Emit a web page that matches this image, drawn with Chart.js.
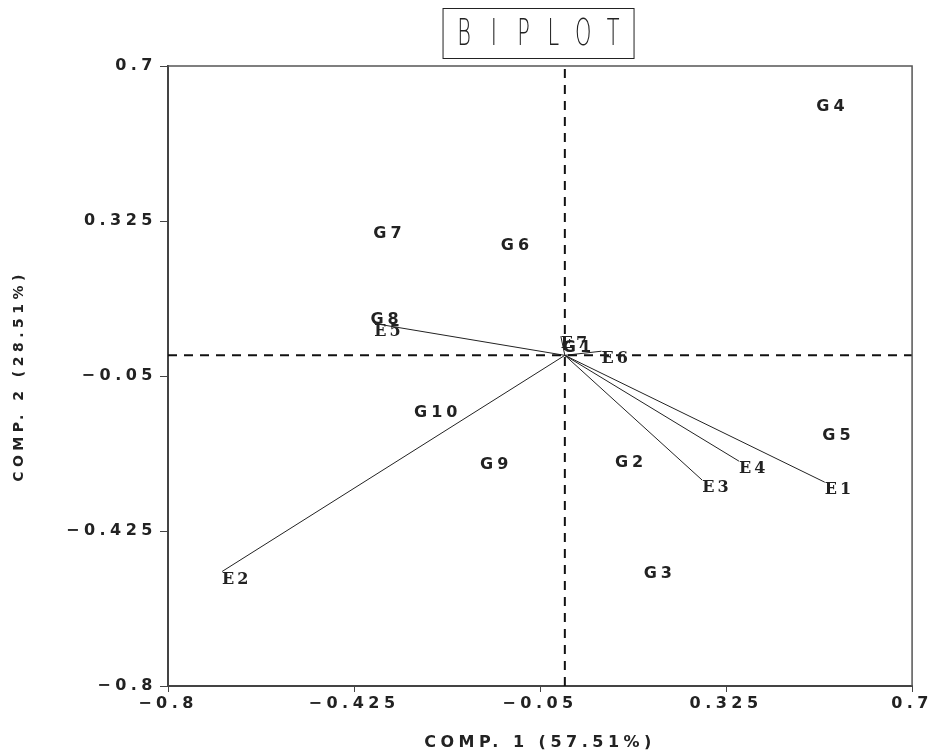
<!DOCTYPE html>
<html>
<head>
<meta charset="utf-8">
<script src="https://cdn.jsdelivr.net/npm/chart.js@4.4.1/dist/chart.umd.min.js"></script>
<style>
    html, body { margin: 0; padding: 0; background: #fff; }
</style>
</head>
<body>
<canvas id="biplot" width="935" height="752"></canvas>
<script>
const titleText = 'BIPLOT';
const xTitle = 'COMP. 1 (57.51%)';
const yTitle = 'COMP. 2 (28.51%)';
const axisTicks = [-0.8, -0.425, -0.05, 0.325, 0.7];

// environment vectors (drawn from the origin)
const envNames = ['E1', 'E2', 'E3', 'E4', 'E5', 'E6', 'E7'];
const envX = [0.524, -0.691, 0.277, 0.351, -0.384, 0.074, -0.008];
const envY = [-0.307, -0.523, -0.302, -0.256, 0.077, 0.010, 0.046];

// genotype scores
const genNames = ['G1', 'G2', 'G3', 'G4', 'G5', 'G6', 'G7', 'G8', 'G9', 'G10'];
const genX = [-0.004, 0.101, 0.159, 0.507, 0.519, -0.129, -0.386, -0.392, -0.171, -0.304];
const genY = [0.036, -0.242, -0.510, 0.619, -0.177, 0.285, 0.312, 0.106, -0.247, -0.121];

const axisMin = axisTicks[0];
const axisMax = axisTicks[axisTicks.length - 1];
const inkColor = '#222';
const tickFont = {family: 'DejaVu Sans', size: 16, weight: 'bold'};

function formatTick(value) {
    return Number(value.toFixed(3)).toString().replace('-', '\u2212');
}

const datasets = [
    {
        label: 'vertical',
        data: [{x: 0, y: axisMin}, {x: 0, y: axisMax}],
        showLine: true, borderColor: '#111', borderWidth: 2, borderDash: [9, 7], pointRadius: 0
    },
    {
        label: 'horizontal',
        data: [{x: axisMin, y: 0}, {x: axisMax, y: 0}],
        showLine: true, borderColor: '#111', borderWidth: 2, borderDash: [9, 7], pointRadius: 0
    }
];

envNames.forEach((name, i) => {
    datasets.push({
        label: name,
        kind: 'env',
        data: [{x: 0, y: 0}, {x: envX[i], y: envY[i]}],
        showLine: true, borderColor: inkColor, borderWidth: 1, pointRadius: 0
    });
});

datasets.push({
    label: 'genotypes',
    kind: 'gen',
    data: genX.map((x, i) => ({x: x, y: genY[i]})),
    pointRadius: 0
});

const spacingPlugin = {
    id: 'spacing',
    beforeLayout(chart) { chart.ctx.letterSpacing = '4.5px'; },
    beforeDraw(chart) { chart.ctx.letterSpacing = '4.5px'; }
};

const labelPlugin = {
    id: 'pointLabels',
    afterDatasetsDraw(chart) {
        const ctx = chart.ctx;
        const xs = chart.scales.x;
        const ys = chart.scales.y;
        ctx.save();
        ctx.fillStyle = inkColor;
        ctx.textAlign = 'left';
        ctx.textBaseline = 'alphabetic';

        ctx.font = 'bold 16px "DejaVu Serif"';
        ctx.letterSpacing = '3px';
        envNames.forEach((name, i) => {
            ctx.fillText(name, xs.getPixelForValue(envX[i]), ys.getPixelForValue(envY[i]) + 12);
        });

        ctx.font = 'bold 16px "DejaVu Sans"';
        ctx.letterSpacing = '4px';
        genNames.forEach((name, i) => {
            ctx.fillText(name, xs.getPixelForValue(genX[i]), ys.getPixelForValue(genY[i]) + 12);
        });
        ctx.restore();
    },
    afterDraw(chart) {
        const ctx = chart.ctx;
        const area = chart.chartArea;
        ctx.save();
        // frame top and right
        ctx.strokeStyle = '#555';
        ctx.lineWidth = 1.5;
        ctx.beginPath();
        ctx.moveTo(area.left, area.top);
        ctx.lineTo(area.right, area.top);
        ctx.lineTo(area.right, area.bottom);
        ctx.stroke();

        // boxed title
        const cx = (area.left + area.right) / 2 - 1.5;
        ctx.strokeStyle = inkColor;
        ctx.lineWidth = 1;
        ctx.strokeRect(cx - 95.5, 8.5, 191, 50);
        ctx.fillStyle = inkColor;
        ctx.font = '200 38px "DejaVu Sans"';
        ctx.textAlign = 'center';
        ctx.textBaseline = 'alphabetic';
        ctx.letterSpacing = '0px';
        const letters = titleText.split('');
        letters.forEach((ch, i) => {
            ctx.save();
            ctx.translate(cx + (i - (letters.length - 1) / 2) * 29.8, 45);
            ctx.scale(0.55, 1);
            ctx.fillText(ch, 0, 0);
            ctx.restore();
        });
        ctx.restore();
    }
};

const tickSetter = scale => {
    scale.ticks = axisTicks.map(v => ({value: v}));
};

new Chart(document.getElementById('biplot'), {
    type: 'scatter',
    data: {datasets: datasets},
    options: {
        responsive: false,
        animation: false,
        devicePixelRatio: 1,
        layout: {padding: {top: 66, right: 20, left: 0, bottom: 0}},
        plugins: {
            legend: {display: false},
            tooltip: {enabled: false}
        },
        scales: {
            x: {
                type: 'linear',
                min: axisMin,
                max: axisMax,
                afterBuildTicks: tickSetter,
                afterFit: scale => { scale.height = 66; },
                ticks: {
                    callback: formatTick,
                    font: tickFont,
                    color: inkColor,
                    padding: 2,
                    maxRotation: 0,
                    autoSkip: false
                },
                grid: {drawOnChartArea: false, tickLength: 6, color: '#444'},
                border: {color: '#444', width: 2},
                title: {
                    display: true,
                    text: xTitle,
                    font: tickFont,
                    color: inkColor,
                    padding: {top: 0, bottom: 0}
                }
            },
            y: {
                type: 'linear',
                min: axisMin,
                max: axisMax,
                afterBuildTicks: tickSetter,
                afterFit: scale => { scale.width = 168; },
                ticks: {
                    callback: formatTick,
                    font: tickFont,
                    color: inkColor,
                    padding: 3,
                    autoSkip: false
                },
                grid: {drawOnChartArea: false, tickLength: 8, color: '#444'},
                border: {color: '#444', width: 2},
                title: {
                    display: true,
                    text: yTitle,
                    font: {family: 'DejaVu Sans', size: 14, weight: 'bold'},
                    color: inkColor,
                    padding: {top: 11, bottom: 0}
                }
            }
        }
    },
    plugins: [spacingPlugin, labelPlugin]
});
</script>
</body>
</html>
